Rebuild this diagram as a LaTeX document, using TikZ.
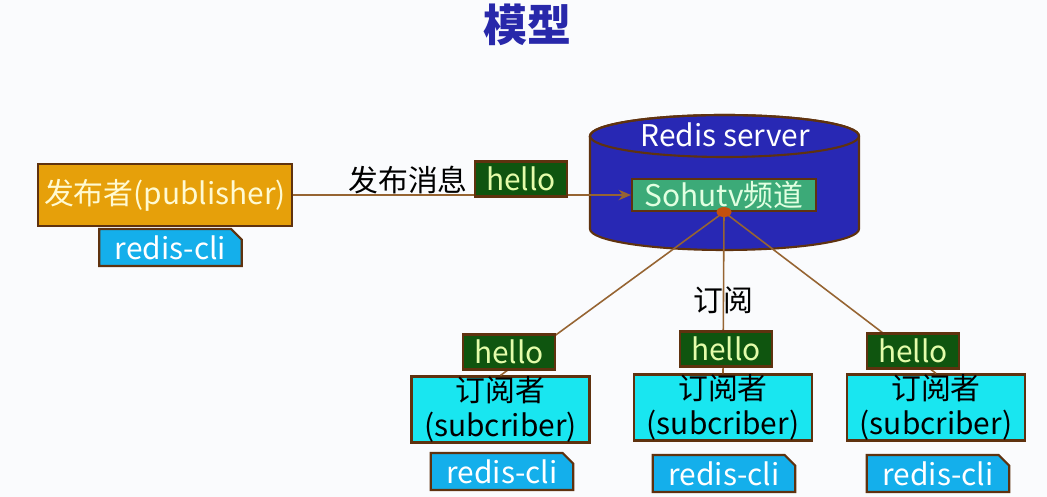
\documentclass[tikz,border=0pt]{standalone}
\usepackage{fontspec}
\setmainfont{Noto Sans CJK SC}
\usetikzlibrary{shapes.misc,arrows.meta}
\definecolor{pagebg}{RGB}{250,251,253}
\definecolor{titleblue}{RGB}{40,40,170}
\definecolor{edgebrown}{RGB}{95,50,15}
\definecolor{wirebrown}{RGB}{150,100,50}
\definecolor{pubgold}{RGB}{230,160,10}
\definecolor{pubtext}{RGB}{255,250,210}
\definecolor{cliblue}{RGB}{20,175,235}
\definecolor{hellogreen}{RGB}{15,85,15}
\definecolor{hellotext}{RGB}{228,252,170}
\definecolor{serverblue}{RGB}{40,40,180}
\definecolor{changreen}{RGB}{60,170,120}
\definecolor{chantext}{RGB}{225,255,225}
\definecolor{subcyan}{RGB}{25,230,240}
\definecolor{hubred}{RGB}{195,80,15}
\newcommand{\bodysize}{\fontsize{17}{20}\selectfont}
\tikzset{
  box/.style={draw=edgebrown, line width=1.2pt, inner sep=0pt},
  wire/.style={draw=wirebrown, line width=0.9pt},
  cli/.style={box, chamfered rectangle, chamfered rectangle corners=north east,
    chamfered rectangle xsep=3pt, chamfered rectangle ysep=3pt,
    fill=cliblue, text=white, minimum width=2.85cm, minimum height=0.74cm},
  hello/.style={box, fill=hellogreen, text=hellotext, minimum width=1.84cm, minimum height=0.7cm},
  subbox/.style={box, fill=subcyan, align=center, minimum width=3.56cm, minimum height=1.3cm}
}
\begin{document}
\begin{tikzpicture}[font=\bodysize]
  \useasboundingbox[fill=pagebg] (0,0) rectangle (20.94,9.94);
  % title
  \node[font=\fontsize{25}{28}\selectfont\bfseries, text=titleblue] (title) at (10.54,9.44) {模型};
  % publisher
  \node[box, fill=pubgold, text=pubtext, minimum width=5.08cm, minimum height=1.24cm] (pub) at (3.30,6.04) {发布者(publisher)};
  \node[cli] (pubcli) at (3.41,4.99) {redis-cli};
  % redis server
  \draw[box, fill=serverblue] (11.8,7.22) -- (11.8,5.36)
    arc[start angle=180, end angle=360, x radius=2.69cm, y radius=0.42cm]
    -- (17.18,7.22)
    arc[start angle=0, end angle=180, x radius=2.69cm, y radius=0.42cm] -- cycle;
  \draw[box] (14.49,7.22) ellipse [x radius=2.69cm, y radius=0.42cm];
  \node[text=white] (srv) at (14.5,7.24) {Redis server};
  \node[box, fill=changreen, text=chantext, minimum width=3.68cm, minimum height=0.64cm] (chan) at (14.48,6.04) {Sohutv频道};
  \coordinate (hub) at (chan.south);
  % publish
  \draw[wire, -{Stealth[length=7pt, width=6pt]}] (pub.east) -- (chan.west);
  \node (pubmsg) at (8.16,6.34) {发布消息};
  \node[hello] (pubhello) at (10.42,6.36) {hello};
  % subscribers
  \node[subbox] (sub1) at (10.01,1.75) {订阅者\\(subcriber)};
  \node[subbox] (sub2) at (14.46,1.79) {订阅者\\(subcriber)};
  \node[subbox] (sub3) at (18.72,1.79) {订阅者\\(subcriber)};
  \draw[wire] (hub) -- (sub1.north);
  \draw[wire] (hub) -- (sub2.north);
  \draw[wire] (hub) -- (sub3.north);
  \fill[hubred] (hub) ellipse [x radius=0.15, y radius=0.1];
  \node (subtext) at (14.46,3.94) {订阅};
  \node[hello] (hello1) at (10.18,2.90) {hello};
  \node[hello] (hello2) at (14.52,2.96) {hello};
  \node[hello] (hello3) at (18.26,2.92) {hello};
  \node[cli] (cli1) at (10.04,0.51) {redis-cli};
  \node[cli] (cli2) at (14.48,0.47) {redis-cli};
  \node[cli] (cli3) at (18.76,0.47) {redis-cli};
\end{tikzpicture}
\end{document}
